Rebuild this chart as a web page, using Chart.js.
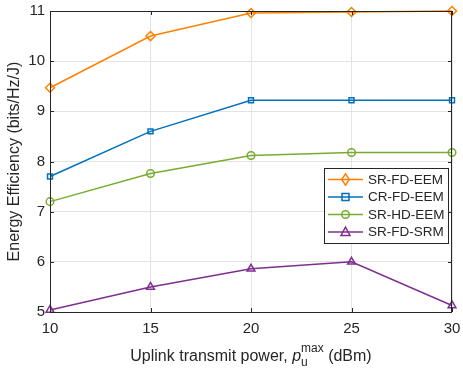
<!DOCTYPE html>
<html lang="en">
<head>
  <meta charset="UTF-8" />
  <title>Energy Efficiency vs Uplink Power</title>
  <script src="https://cdn.jsdelivr.net/npm/chart.js"></script>
  <style>
    html, body { margin: 0; padding: 0; background: #fff; }
    #wrap { width: 463px; height: 371px; position: relative; }
  </style>
</head>
<body>
  <div id="wrap"><canvas id="eeChart"></canvas></div>

  <script>
    const powers = [10, 15, 20, 25, 30];
    const srFdEem = [9.47, 10.5, 10.96, 10.98, 11.0];
    const crFdEem = [7.7, 8.6, 9.22, 9.22, 9.22];
    const srHdEem = [7.2, 7.76, 8.12, 8.18, 8.18];
    const srFdSrm = [5.04, 5.5, 5.86, 6.0, 5.13];
    const yTicks = [5, 6, 7, 8, 9, 10, 11];

    const FONT = "'Liberation Sans', Arial, sans-serif";
    const AXIS = '#262626';

    const series = [
      { label: 'SR-FD-EEM', data: srFdEem, color: '#ff8000', marker: 'rectRot', r: 4.5 },
      { label: 'CR-FD-EEM', data: crFdEem, color: '#0072bd', marker: 'rect', r: 3.5 },
      { label: 'SR-HD-EEM', data: srHdEem, color: '#77ac30', marker: 'circle', r: 3.8 },
      { label: 'SR-FD-SRM', data: srFdSrm, color: '#7e2f8e', marker: 'triangle', r: 4.5 }
    ];

    function drawMarker(ctx, style, x, y, r) {
      ctx.beginPath();
      if (style === 'rectRot') {
        ctx.moveTo(x, y - r * 1.25); ctx.lineTo(x + r * 0.85, y);
        ctx.lineTo(x, y + r * 1.25); ctx.lineTo(x - r * 0.85, y); ctx.closePath();
      } else if (style === 'rect') {
        ctx.rect(x - r, y - r, 2 * r, 2 * r);
      } else if (style === 'circle') {
        ctx.arc(x, y, r, 0, Math.PI * 2);
      } else {
        ctx.moveTo(x, y - r * 1.1); ctx.lineTo(x + r, y + r * 0.75);
        ctx.lineTo(x - r, y + r * 0.75); ctx.closePath();
      }
      ctx.stroke();
    }

    // box, inner ticks, legend and the x title with sub/superscript
    const decor = {
      id: 'decor',
      afterDatasetsDraw(chart) {
        const { ctx, chartArea: a, scales } = chart;
        ctx.save();
        ctx.strokeStyle = AXIS;
        ctx.lineWidth = 1;
        ctx.strokeRect(a.left + 0.5, a.top + 0.5, a.right - a.left - 1, a.bottom - a.top);
        ctx.beginPath();
        powers.forEach(p => {
          const x = Math.round(scales.x.getPixelForValue(p)) + 0.5;
          ctx.moveTo(x, a.bottom); ctx.lineTo(x, a.bottom - 4);
          ctx.moveTo(x, a.top); ctx.lineTo(x, a.top + 4);
        });
        yTicks.forEach(v => {
          const y = Math.round(scales.y.getPixelForValue(v)) + 0.5;
          ctx.moveTo(a.left, y); ctx.lineTo(a.left + 4, y);
          ctx.moveTo(a.right, y); ctx.lineTo(a.right - 4, y);
        });
        ctx.stroke();

        // legend
        const lx = 324, ly = 168, lw = 124, lh = 75;
        ctx.fillStyle = '#fff';
        ctx.fillRect(lx, ly, lw, lh);
        ctx.strokeStyle = AXIS;
        ctx.strokeRect(lx + 0.5, ly + 0.5, lw, lh);
        ctx.font = '13.5px ' + FONT;
        ctx.textBaseline = 'middle';
        series.forEach((s, i) => {
          const y = 179.5 + i * 17.5;
          ctx.strokeStyle = s.color;
          ctx.lineWidth = 1.5;
          ctx.beginPath(); ctx.moveTo(328, y); ctx.lineTo(363, y); ctx.stroke();
          drawMarker(ctx, s.marker, 345.5, y, s.r);
          ctx.fillStyle = AXIS;
          ctx.fillText(s.label, 368, y + 0.5);
        });

        // x axis title
        const base = 361;
        const parts = [
          { t: 'Uplink transmit power, ', f: '16px ' + FONT, dy: 0 },
          { t: 'p', f: 'italic 16px ' + FONT, dy: 0 },
          { t: 'max', f: '12px ' + FONT, dy: -9, sup: true },
          { t: ' (dBm)', f: '16px ' + FONT, dy: 0 }
        ];
        let total = 0;
        parts.forEach(p => { ctx.font = p.f; p.w = ctx.measureText(p.t).width; total += p.w; });
        let x = (a.left + a.right) / 2 - total / 2;
        ctx.fillStyle = AXIS;
        ctx.textBaseline = 'alphabetic';
        parts.forEach(p => {
          ctx.font = p.f;
          ctx.fillText(p.t, x, base + p.dy);
          if (p.sup) {
            ctx.fillText('u', x, base + 5);
          }
          x += p.w;
        });
        ctx.restore();
      }
    };

    const ctx = document.getElementById('eeChart').getContext('2d');
    new Chart(ctx, {
      type: 'line',
      data: {
        datasets: series.map(s => ({
          label: s.label,
          data: powers.map((p, i) => ({ x: p, y: s.data[i] })),
          borderColor: s.color,
          backgroundColor: s.color,
          borderWidth: 1.5,
          pointStyle: s.marker,
          pointRadius: s.r,
          pointBorderWidth: 1.5,
          pointBackgroundColor: 'rgba(0,0,0,0)',
          pointBorderColor: s.color,
          tension: 0,
          clip: false
        }))
      },
      options: {
        responsive: true,
        maintainAspectRatio: false,
        animation: false,
        layout: { padding: { top: 11, right: 11, left: 0, bottom: 0 } },
        plugins: { legend: { display: false }, tooltip: { enabled: false } },
        scales: {
          x: {
            type: 'linear',
            min: 10, max: 30,
            afterBuildTicks: s => { s.ticks = powers.map(v => ({ value: v })); },
            afterFit: s => { s.height = 59; s.paddingLeft = 0; s.paddingRight = 0; },
            grid: { color: '#e3e3e3', drawTicks: false },
            border: { display: false },
            ticks: { color: AXIS, font: { family: FONT, size: 15 }, padding: 8, maxRotation: 0 }
          },
          y: {
            min: 5, max: 11,
            afterBuildTicks: s => { s.ticks = yTicks.map(v => ({ value: v })); },
            afterFit: s => { s.width = 50; s.paddingTop = 0; s.paddingBottom = 0; },
            grid: { color: '#e3e3e3', drawTicks: false },
            border: { display: false },
            title: {
              display: true,
              text: 'Energy Efficiency (bits/Hz/J)',
              color: AXIS,
              font: { family: FONT, size: 16 },
              padding: { top: 5, bottom: 0 }
            },
            ticks: { color: AXIS, font: { family: FONT, size: 15 }, padding: 5 }
          }
        }
      },
      plugins: [decor]
    });
  </script>
</body>
</html>
